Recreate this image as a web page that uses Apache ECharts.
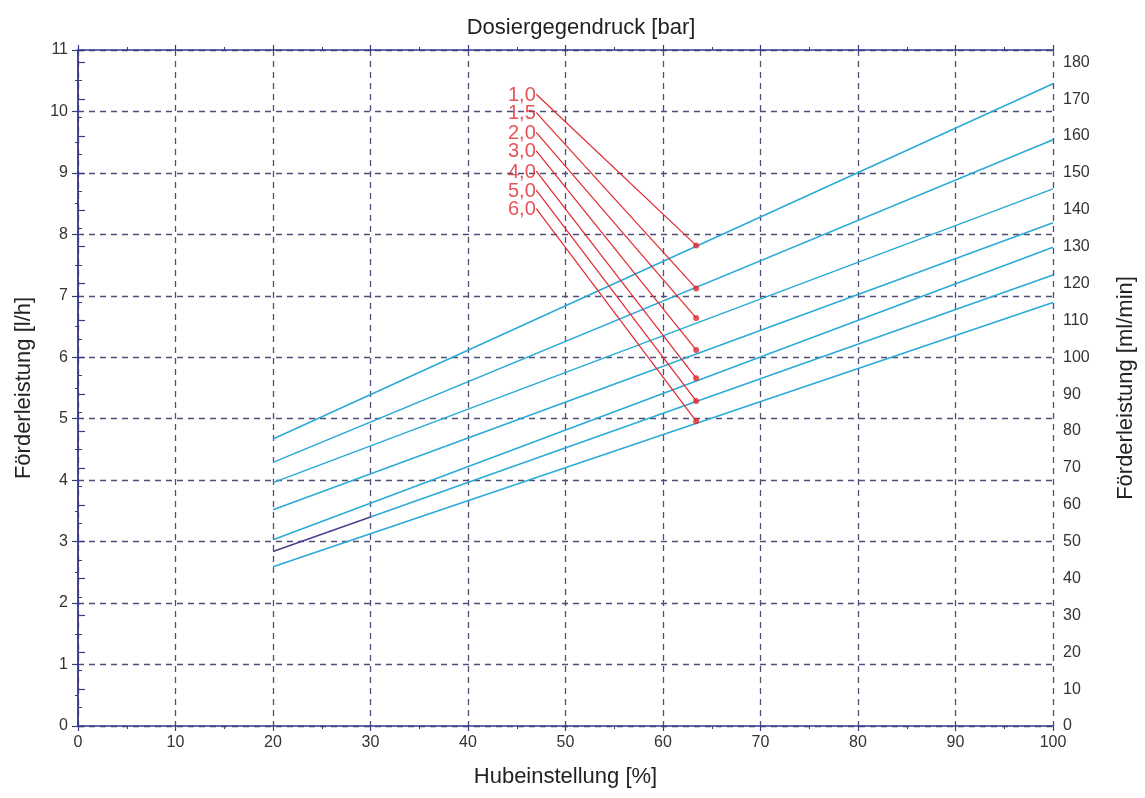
<!DOCTYPE html>
<html>
<head>
<meta charset="utf-8">
<script src="https://cdn.jsdelivr.net/npm/echarts@6/dist/echarts.min.js"></script>
<style>
  html, body { margin: 0; padding: 0; background: #ffffff; }
  #chart { width: 1145px; height: 798px; }
</style>
</head>
<body>
<div id="chart"></div>
<script>
// Pressure labels (bar) for the seven delivery curves
const pressures = ['1,0', '1,5', '2,0', '3,0', '4,0', '5,0', '6,0'];
// Stroke setting range of each curve (%)
const strokeStart = [20, 20, 20, 20, 20, 30, 20];
const strokeEnd = 100;
// Delivery rate (l/h) at the start and end of each curve
const flowStart = [4.67, 4.29, 3.96, 3.52, 3.03, 3.40, 2.59];
const flowEnd   = [10.45, 9.54, 8.74, 8.19, 7.79, 7.34, 6.89];
// Low-stroke segment of the 5,0 bar curve
const lowSegX = [20, 30];
const lowSegY = [2.84, 3.40];
// Marked points on each curve
const markX = 63.4;
const markY = [7.82, 7.12, 6.64, 6.12, 5.66, 5.29, 4.96];
// Label anchor points for the leader lines
const labelX = 47.0;
const labelY = [10.28, 9.98, 9.66, 9.36, 9.03, 8.72, 8.42];

const axisColor = '#3a3a8c';
const gridColor = '#4e4e78';
const textColor = '#333333';
const blue = '#2aaad6';
const red = '#e0282e';
const font = 'Liberation Sans, Arial, sans-serif';

const series = [];

pressures.forEach((p, i) => {
  series.push({
    type: 'line', xAxisIndex: 0, yAxisIndex: 0,
    data: [[strokeStart[i], flowStart[i]], [strokeEnd, flowEnd[i]]],
    showSymbol: false, silent: true,
    lineStyle: { color: blue, width: 1.5 },
    z: 3
  });
});

series.push({
  type: 'line', xAxisIndex: 0, yAxisIndex: 0,
  data: lowSegX.map((x, k) => [x, lowSegY[k]]),
  showSymbol: false, silent: true,
  lineStyle: { color: '#4a3f8c', width: 1.5 },
  z: 3
});

// Leader lines from each pressure label to its marked point
pressures.forEach((p, i) => {
  series.push({
    type: 'line', xAxisIndex: 0, yAxisIndex: 0,
    data: [[labelX, labelY[i]], [markX, markY[i]]],
    showSymbol: false, silent: true,
    lineStyle: { color: red, width: 1.2 },
    z: 4
  });
});

// Pressure labels at the start of each leader line
series.push({
  type: 'scatter', xAxisIndex: 0, yAxisIndex: 0,
  data: labelY.map((v, i) => ({ value: [labelX, v], name: pressures[i] })),
  symbolSize: 1, silent: true,
  itemStyle: { color: 'rgba(0,0,0,0)' },
  label: {
    show: true, position: 'left', distance: 0,
    formatter: d => d.name,
    color: red, fontSize: 20, fontFamily: font, offset: [0, 1]
  },
  z: 6
});

series.push({
  type: 'scatter', xAxisIndex: 0, yAxisIndex: 0,
  data: markY.map(v => [markX, v]),
  symbol: 'circle', symbolSize: 6, silent: true,
  itemStyle: { color: red },
  z: 5
});

const chart = echarts.init(document.getElementById('chart'), null, { renderer: 'canvas' });
chart.setOption({
  backgroundColor: '#ffffff',
  animation: false,
  textStyle: { fontFamily: font },
  title: {
    text: 'Dosiergegendruck [bar]',
    left: 576, top: 12, textAlign: 'center',
    textStyle: { fontSize: 22, fontWeight: 'normal', color: '#222', fontFamily: font }
  },
  grid: { left: 78, right: 90, top: 50, bottom: 72, containLabel: false },
  xAxis: [
    {
      type: 'value', position: 'bottom', min: 0, max: 100, interval: 10,
      name: 'Hubeinstellung [%]', nameLocation: 'middle', nameGap: 40,
      nameTextStyle: { fontSize: 22, color: '#222', fontFamily: font },
      axisLine: { lineStyle: { color: axisColor, width: 1.5 } },
      axisTick: { show: true, length: 5, lineStyle: { color: axisColor, width: 1.2 } },
      minorTick: { show: true, splitNumber: 2, length: 3, lineStyle: { color: axisColor } },
      axisLabel: { fontSize: 16, color: textColor, margin: 9, fontFamily: font },
      splitLine: { show: true, lineStyle: { color: gridColor, type: [6, 5], width: 1.3 } }
    },
    {
      type: 'value', position: 'top', min: 0, max: 100, interval: 10,
      axisLine: { show: true, onZero: false, lineStyle: { color: axisColor, width: 1.5 } },
      axisTick: { show: true, length: 5, lineStyle: { color: axisColor, width: 1.2 } },
      minorTick: { show: true, splitNumber: 2, length: 3, lineStyle: { color: axisColor } },
      axisLabel: { show: false },
      splitLine: { show: false }
    }
  ],
  yAxis: [
    {
      type: 'value', position: 'left', min: 0, max: 11, interval: 1,
      name: 'Förderleistung [l/h]', nameLocation: 'middle', nameGap: 43, nameRotate: 90,
      nameTextStyle: { fontSize: 22, color: '#222', fontFamily: font },
      axisLine: { show: true, lineStyle: { color: axisColor, width: 1.5 } },
      axisTick: { show: true, length: 6, lineStyle: { color: axisColor, width: 1.2 } },
      minorTick: { show: true, splitNumber: 2, length: 3, lineStyle: { color: axisColor } },
      axisLabel: { fontSize: 16, color: textColor, margin: 10, fontFamily: font },
      splitLine: { show: true, lineStyle: { color: gridColor, type: [6, 5], width: 1.3 } }
    },
    {
      type: 'value', position: 'right', min: 0, max: 11 * 1000 / 60, interval: 10,
      name: 'Förderleistung [ml/min]', nameLocation: 'middle', nameGap: 62, nameRotate: 90,
      nameTextStyle: { fontSize: 22, color: '#222', fontFamily: font },
      axisLine: { show: true, lineStyle: { color: axisColor, width: 1.5 } },
      axisTick: { show: true, length: 7, lineStyle: { color: axisColor, width: 1.2 } },
      minorTick: { show: true, splitNumber: 2, length: 4, lineStyle: { color: axisColor } },
      axisLabel: {
        fontSize: 16, color: textColor, margin: 10, fontFamily: font,
        formatter: v => (Math.abs(v % 10) < 1e-6 ? String(v) : '')
      },
      splitLine: { show: false }
    }
  ],
  series: series
});
</script>
</body>
</html>
